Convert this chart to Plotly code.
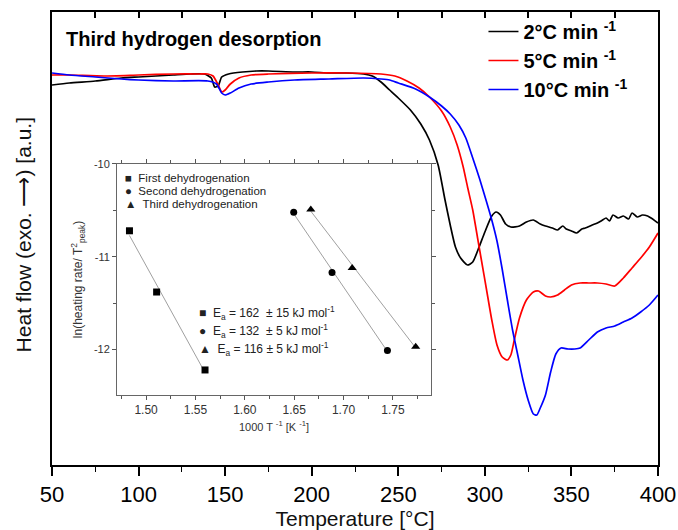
import numpy as np
import plotly.graph_objects as go

# ---------------- main DSC curves (temperature in °C, heat flow in a.u.) -------------
t_2 = [50, 60, 75, 90, 100, 110, 120, 130, 138, 142, 144, 146, 148, 152, 160, 168, 175, 190, 200, 210,
       220, 230, 235, 240, 245, 250, 257, 263, 268, 273, 277, 280, 283, 286, 290, 293, 296, 300, 304,
       306.5, 309, 312, 315, 320, 324, 328, 332, 335, 339, 342, 345, 347, 350, 353, 356, 358, 362, 365,
       368, 370, 372, 374, 377, 380, 383, 385, 388, 391, 394, 396, 400]
hf_2 = [3.80, 3.82, 3.84, 3.87, 3.88, 3.89, 3.90, 3.91, 3.91, 3.87, 3.78, 3.79, 3.88, 3.91, 3.93, 3.94, 3.94,
        3.93, 3.93, 3.92, 3.92, 3.91, 3.89, 3.83, 3.75, 3.67, 3.55, 3.41, 3.25, 3.00, 2.65, 2.40, 2.18,
        2.07, 2.00, 2.03, 2.15, 2.33, 2.49, 2.53, 2.50, 2.41, 2.38, 2.39, 2.43, 2.45, 2.41, 2.39, 2.37,
        2.35, 2.39, 2.36, 2.34, 2.32, 2.36, 2.37, 2.40, 2.42, 2.45, 2.47, 2.44, 2.50, 2.47, 2.49, 2.46,
        2.52, 2.48, 2.50, 2.49, 2.47, 2.42]

t_5 = [50, 60, 80, 100, 120, 135, 140, 143, 146, 148, 150, 153, 158, 165, 175, 200, 220, 240, 248, 255,
       262, 268, 275, 280, 284, 287.5, 290, 293, 296, 298, 301, 304, 307, 310, 313, 315, 317, 320, 324,
       328, 331, 335, 338, 342, 346, 350, 355, 360, 365, 370, 375, 380, 385, 390, 395, 400]
hf_5 = [3.90, 3.90, 3.89, 3.90, 3.91, 3.91, 3.91, 3.89, 3.80, 3.73, 3.75, 3.81, 3.87, 3.90, 3.91, 3.92,
        3.92, 3.91, 3.89, 3.84, 3.77, 3.68, 3.54, 3.38, 3.20, 2.98, 2.78, 2.55, 2.25, 2.05, 1.75, 1.45,
        1.20, 1.08, 1.05, 1.10, 1.25, 1.47, 1.65, 1.73, 1.74, 1.69, 1.68, 1.70, 1.75, 1.80, 1.82, 1.82,
        1.82, 1.81, 1.79, 1.87, 1.97, 2.07, 2.18, 2.32]

t_10 = [50, 60, 75, 90, 100, 120, 140, 145, 148, 150, 153, 158, 165, 175, 190, 210, 230, 240, 245, 250,
        260, 268, 275, 280, 285, 289, 293, 297, 301, 304, 307, 310, 313, 316, 319, 322, 325, 328, 330,
        332, 335, 338, 341, 344, 348, 352, 355, 360, 365, 370, 375, 380, 385, 390, 395, 400]
hf_10 = [3.92, 3.90, 3.88, 3.86, 3.85, 3.84, 3.84, 3.81, 3.72, 3.70, 3.72, 3.77, 3.81, 3.83, 3.85, 3.86,
         3.87, 3.86, 3.85, 3.82, 3.76, 3.68, 3.59, 3.51, 3.40, 3.27, 3.07, 2.86, 2.63, 2.45, 2.24, 1.96,
         1.65, 1.35, 1.10, 0.85, 0.65, 0.51, 0.50, 0.57, 0.70, 0.93, 1.11, 1.17, 1.16, 1.16, 1.17, 1.25,
         1.33, 1.37, 1.39, 1.43, 1.47, 1.53, 1.60, 1.70]

series_names = ["<b>2°C min <sup>-1</sup></b>", "<b>5°C min <sup>-1</sup></b>", "<b>10°C min <sup>-1</sup></b>"]
series_colors = ["#000000", "#ff0000", "#0000ff"]

x_ticks = [50, 100, 150, 200, 250, 300, 350, 400]

# ---------------- inset: Kissinger plot ----------------
inv_T_first = [1.4832, 1.5107, 1.5597]
ln_first = [-10.72, -11.38, -12.22]
inv_T_second = [1.6495, 1.6883, 1.7444]
ln_second = [-10.52, -11.17, -12.01]
inv_T_third = [1.6668, 1.7087, 1.7730]
ln_third = [-10.49, -11.12, -11.97]

inset_series = ["First dehydrogenation", "Second dehydrogenation", "Third dehydrogenation"]
inset_symbols = ["square", "circle", "triangle-up"]
inset_glyphs = ["■", "●", "▲"]
ea_values = ["162  ± 15", "132  ± 5", "116 ± 5"]

inset_xticks = [1.50, 1.55, 1.60, 1.65, 1.70, 1.75]
inset_yticks = [-10, -11, -12]
inset_yticklabels = ["-10", "-11", "-12"]

FONT = "Liberation Sans, Arial, sans-serif"

fig = go.Figure()

for t, hf, name, col in zip([t_2, t_5, t_10], [hf_2, hf_5, hf_10], series_names, series_colors):
    fig.add_trace(go.Scatter(x=t, y=hf, mode="lines", name=name,
                             line=dict(color=col, width=1.7, shape="spline", smoothing=0.6),
                             xaxis="x", yaxis="y"))

# invisible trace on top axis so it is drawn
fig.add_trace(go.Scatter(x=t_2, y=hf_2, mode="lines", line=dict(width=0), opacity=0,
                         showlegend=False, hoverinfo="skip", xaxis="x2", yaxis="y"))

inset_data = [(inv_T_first, ln_first), (inv_T_second, ln_second), (inv_T_third, ln_third)]
for (xs, ys), sym in zip(inset_data, inset_symbols):
    k, b = np.polyfit(xs, ys, 1)
    xf = np.array([min(xs), max(xs)])
    fig.add_trace(go.Scatter(x=xf, y=k * xf + b, mode="lines", showlegend=False,
                             line=dict(color="#a0a0a0", width=1), xaxis="x3", yaxis="y3", hoverinfo="skip"))
for (xs, ys), sym, nm in zip(inset_data, inset_symbols, inset_series):
    fig.add_trace(go.Scatter(x=xs, y=ys, mode="markers", name=nm, showlegend=False,
                             marker=dict(symbol=sym, color="black", size=7 if sym != "triangle-up" else 8),
                             xaxis="x3", yaxis="y3"))

annotations = [
    dict(text="<b>Third hydrogen desorption</b>", xref="paper", yref="paper", x=0.02, y=0.94,
         xanchor="left", yanchor="middle", showarrow=False, font=dict(size=20, color="black", family=FONT)),
    dict(text="Heat flow (exo. ⟶) [a.u.]", xref="paper", yref="paper", x=-0.047, y=0.508,
         xanchor="center", yanchor="middle", textangle=-90, showarrow=False,
         font=dict(size=21, color="#111", family=FONT)),
]
for i, (g, nm) in enumerate(zip(inset_glyphs, inset_series)):
    annotations.append(dict(text=g + "  " + nm, xref="paper", yref="paper", x=0.117, y=0.634 - i * 0.0287,
                            xanchor="left", yanchor="middle", showarrow=False,
                            font=dict(size=11.5, color="#222", family=FONT)))
for i, (g, ea) in enumerate(zip(inset_glyphs, ea_values)):
    annotations.append(dict(text=g + "  E<sub>a</sub> = " + ea + " kJ mol<sup>-1</sup>", xref="paper",
                            yref="paper", x=0.24, y=0.3355 - i * 0.0397,
                            xanchor="left", yanchor="middle", showarrow=False,
                            font=dict(size=12, color="#222", family=FONT)))

fig.update_layout(
    width=678, height=530,
    margin=dict(l=52, r=20, t=12, b=65, autoexpand=False),
    paper_bgcolor="white", plot_bgcolor="white",
    font=dict(family=FONT, color="black"),
    showlegend=True,
    legend=dict(x=0.712, y=1.0, xanchor="left", yanchor="top", bgcolor="rgba(0,0,0,0)",
                font=dict(size=20, color="black", family=FONT), itemwidth=30, tracegroupgap=0),
    xaxis=dict(range=[50, 400], tickvals=x_ticks, ticks="outside", ticklen=9, tickwidth=1.5,
               tickcolor="black", showline=True, linecolor="black", linewidth=1.5, mirror=True,
               showgrid=False, zeroline=False, tickfont=dict(size=22, color="black"),
               ticklabeloverflow="allow", automargin=False,
               minor=dict(dtick=25, ticks="outside", ticklen=5, tickwidth=1.2, tickcolor="black"),
               title=dict(text="Temperature [°C]", font=dict(size=21, color="#111"), standoff=6)),
    xaxis2=dict(range=[50, 400], overlaying="x", side="top", anchor="y", dtick=25, tick0=50,
                ticks="inside", ticklen=6, tickwidth=1.5, tickcolor="black", showticklabels=False,
                showline=False, showgrid=False, zeroline=False),
    yaxis=dict(range=[0, 4.53], showticklabels=False, ticks="", showline=True, linecolor="black",
               linewidth=1.5, mirror=True, showgrid=False, zeroline=False, automargin=False),
    xaxis3=dict(domain=[0.1073, 0.6254], range=[1.4706, 1.7885], anchor="y3",
                tickvals=inset_xticks, tickformat=".2f", ticks="outside", ticklen=4, tickcolor="#555",
                showline=True, linecolor="#666", linewidth=1, mirror="ticks", showgrid=False,
                zeroline=False, tickfont=dict(size=12, color="#333"),
                minor=dict(dtick=0.025, tick0=1.475, ticks="outside", ticklen=3, tickcolor="#555"),
                title=dict(text="1000 T <sup>-1</sup> [K <sup>-1</sup>]", font=dict(size=11, color="#333"),
                           standoff=6)),
    yaxis3=dict(domain=[0.1545, 0.6645], range=[-12.49, -10.0], anchor="x3",
                tickvals=inset_yticks, ticktext=inset_yticklabels, ticks="outside", ticklen=4,
                tickcolor="#555", showline=True, linecolor="#666", linewidth=1, mirror="ticks",
                showgrid=False, zeroline=False, tickfont=dict(size=11, color="#333"),
                minor=dict(dtick=0.5, ticks="outside", ticklen=3, tickcolor="#555"),
                title=dict(text="ln(heating rate/ T<sup>2</sup><sub>peak</sub>)",
                           font=dict(size=12, color="#333"), standoff=8)),
    annotations=annotations,
)

fig.write_html("out.html", config={"displayModeBar": False},
               post_script="document.body.style.margin='0px';document.body.style.overflow='hidden';")
